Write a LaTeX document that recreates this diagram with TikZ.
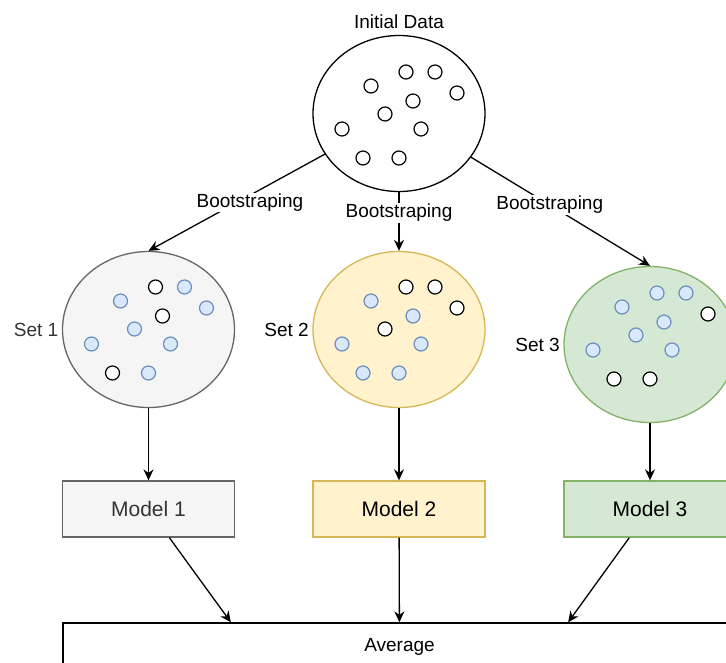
\documentclass[tikz,border=0pt]{standalone}
\usepackage{fontspec}
\setmainfont{Liberation Sans}
\usetikzlibrary{arrows.meta,shapes.geometric,calc,positioning}
\definecolor{grayfill}{HTML}{F5F5F5}
\definecolor{graydraw}{HTML}{666666}
\definecolor{graytext}{HTML}{333333}
\definecolor{yellowfill}{HTML}{FFF2CC}
\definecolor{yellowdraw}{HTML}{D6B656}
\definecolor{greenfill}{HTML}{D5E8D4}
\definecolor{greendraw}{HTML}{82B366}
\definecolor{bluefill}{HTML}{DAE8FC}
\definecolor{bluedraw}{HTML}{6C8EBF}
\tikzset{
  txt/.style={font=\fontsize{19}{22}\selectfont},
  dataset/.style={draw,ellipse,line width=1.3pt,minimum width=172pt,minimum height=156pt,inner sep=0pt},
  model/.style={draw,rectangle,line width=1.3pt,minimum width=172pt,minimum height=56pt,font=\fontsize{21}{24}\selectfont},
  dot0/.style={draw=black,fill=white,circle,line width=1.2pt,minimum size=14pt,inner sep=0pt},
  dot1/.style={draw=bluedraw,fill=bluefill,circle,line width=1.2pt,minimum size=14pt,inner sep=0pt},
  arr/.style={-{Stealth[length=11pt,width=10pt]},line width=1.3pt},
  lbl/.style={txt,fill=white,inner sep=1pt}
}
% #1 ellipse, #2 shift, #3 dot colours (0 white, 1 blue)
\newcommand{\dotset}[3]{%
  \foreach \dx/\dy [count=\k] in {7/-42.5,36/-42.5,-28/-28.5,58/-21.5,14/-13.5,-14/-0.5,-57/14.5,22/14.5,-36/43.5,0/43.5}{
    \pgfmathtruncatemacro\c{{#3}[\k-1]}
    \node[dot\c] (#1-\k) at ($(#1)+(#2)+(\dx,\dy)$) {};
  }}
\begin{document}
\begin{tikzpicture}[x=1pt,y=-1pt]
    \useasboundingbox (0,0) rectangle (726,662);
    % data sets
    \node[dataset] (top) at (399,113.5) {};
    \node[dataset,fill=grayfill,draw=graydraw] (set1) at (148.5,329.5) {};
    \node[dataset,fill=yellowfill,draw=yellowdraw] (set2) at (399,329.5) {};
    \node[dataset,fill=greenfill,draw=greendraw] (set3) at (650,344.5) {};
    \node[txt,above=3pt of top] (init) {Initial Data};
    \node[txt,text=graytext,left=0pt of set1] (lab1) {Set 1};
    \node[txt,left=0pt of set2] (lab2) {Set 2};
    \node[txt,left=0pt of set3] (lab3) {Set 3};

    \dotset{top}{0,1}{0,0,0,0,0,0,0,0,0,0}
    \dotset{set1}{0,0}{0,1,1,1,0,1,1,1,0,1}
    \dotset{set2}{0,0}{0,0,1,0,1,0,1,1,1,1}
    \dotset{set3}{0,-9}{1,1,1,0,1,1,1,1,0,0}

    % models
    \node[model,fill=grayfill,draw=graydraw,text=graytext] (model1) at (148.5,509) {Model 1};
    \node[model,fill=yellowfill,draw=yellowdraw] (model2) at (399,509) {Model 2};
    \node[model,fill=greenfill,draw=greendraw] (model3) at (650,509) {Model 3};
    \node[draw,txt,line width=1.3pt,minimum width=673pt,minimum height=48pt] (avg) at (399.5,647) {Average};
    \coordinate (in1) at ($(avg.north west)!0.25!(avg.north east)$);
    \coordinate (in3) at ($(avg.north west)!0.75!(avg.north east)$);

    \path[arr] (top) edge node[lbl,pos=0.47,xshift=8pt,yshift=-3pt] (bs1) {Bootstraping} (set1.north);
    \path[arr] (top) edge node[lbl,pos=0.35] (bs2) {Bootstraping} (set2);
    \path[arr] (top) edge node[lbl,pos=0.44] (bs3) {Bootstraping} (set3.north);

    \path[arr] (set1) edge (model1);
    \path[arr] (set2) edge (model2);
    \path[arr] (set3) edge (model3);

    \path[arr] (model1) edge (in1);
    \path[arr] (model2) edge (avg);
    \path[arr] (model3) edge (in3);
\end{tikzpicture}
\end{document}
